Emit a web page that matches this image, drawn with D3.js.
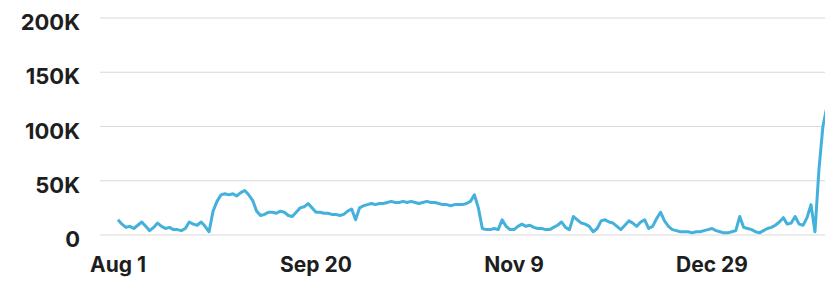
<!DOCTYPE html>
<html>
<head>
<meta charset="utf-8">
<script src="https://cdn.jsdelivr.net/npm/d3@7"></script>
<style>
  html, body { margin: 0; padding: 0; background: #fff; }
  svg { display: block; }
</style>
</head>
<body>
<div id="vis"></div>
<script>
const width = 825;
const height = 283;

// daily values (thousands), starting Aug 1
const startDate = "2019-08-01";
const values = [
  14, 10, 7, 8, 6, 9, 12, 8, 4, 7,
  11, 8, 6, 7, 5, 5, 4, 6, 12, 10,
  9, 12, 8, 3, 22, 31, 37, 38, 37, 38,
  36, 39, 41, 37, 32, 22, 18, 19, 21, 21,
  20, 22, 21, 18, 17, 21, 25, 26, 29, 25,
  21, 21, 20, 20, 19, 19, 18, 19, 22, 24,
  14, 25, 27, 28, 29, 28, 29, 29, 30, 31,
  30, 30, 31, 30, 31, 30, 29, 30, 31, 30,
  30, 29, 28, 28, 27, 28, 28, 28, 29, 31,
  37, 25, 6, 5, 5, 6, 5, 14, 8, 5,
  5, 8, 10, 8, 9, 7, 6, 6, 5, 5,
  7, 9, 12, 7, 5, 17, 14, 11, 10, 8,
  3, 6, 13, 14, 12, 11, 8, 5, 9, 13,
  11, 8, 12, 14, 6, 8, 15, 21, 13, 8,
  5, 4, 3, 3, 3, 2, 3, 3, 4, 5,
  6, 4, 3, 2, 2, 3, 4, 17, 7, 6,
  5, 3, 2, 4, 6, 7, 9, 12, 16, 10,
  11, 17, 10, 9, 16, 28, 3, 60, 100, 118
];

const yTicks = [0, 50000, 100000, 150000, 200000];
const yTickLabels = ["0", "50K", "100K", "150K", "200K"];
const xTicks = ["2019-08-01", "2019-09-20", "2019-11-09", "2019-12-29"];
const xTickLabels = ["Aug 1", "Sep 20", "Nov 9", "Dec 29"];

const parse = d3.utcParse("%Y-%m-%d");
const start = parse(startDate);
const data = values.map((v, i) => ({ date: d3.utcDay.offset(start, i), value: v * 1000 }));

const x = d3.scaleUtc()
    .domain([parse(xTicks[0]), parse(xTicks[3])])
    .range([118, 712]);

const y = d3.scaleLinear()
    .domain([0, 200000])
    .range([235, 18]);

const svg = d3.select("#vis").append("svg")
    .attr("width", width)
    .attr("height", height)
    .style("font-family", "Inter, 'Noto Sans', sans-serif");

// gridlines
svg.append("g")
  .selectAll("line")
  .data(yTicks)
  .join("line")
    .attr("x1", 100)
    .attr("x2", width)
    .attr("y1", d => y(d))
    .attr("y2", d => y(d))
    .attr("stroke", "#d9d9d9")
    .attr("stroke-width", 1.2);

// y labels
svg.append("g")
  .selectAll("text")
  .data(yTicks)
  .join("text")
    .attr("x", 80)
    .attr("y", d => y(d) + 12)
    .attr("text-anchor", "end")
    .attr("font-size", 22)
    .attr("font-weight", 700)
    .attr("fill", "#1e1e1e")
    .text((d, i) => yTickLabels[i]);

// x labels
svg.append("g")
  .selectAll("text")
  .data(xTicks)
  .join("text")
    .attr("x", d => x(parse(d)))
    .attr("y", 272)
    .attr("text-anchor", "middle")
    .attr("font-size", 21)
    .attr("font-weight", 700)
    .attr("fill", "#1e1e1e")
    .text((d, i) => xTickLabels[i]);

// line
const line = d3.line()
    .x(d => x(d.date))
    .y(d => y(d.value));

svg.append("path")
    .datum(data)
    .attr("fill", "none")
    .attr("stroke", "#44b0dc")
    .attr("stroke-width", 3)
    .attr("stroke-linejoin", "round")
    .attr("d", line);
</script>
</body>
</html>
